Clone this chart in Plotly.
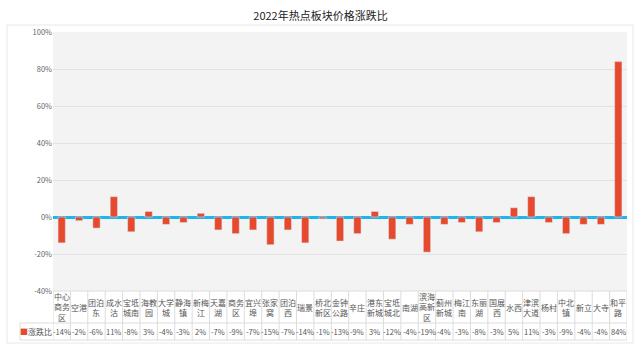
import plotly.graph_objects as go

categories = ["中心商务区", "空港", "团泊东", "成水沽", "宝坻城南", "海教园", "大学城", "静海镇",
              "新梅江", "天嘉湖", "商务区", "宜兴埠", "张家窝", "团泊西", "瑞景", "桥北新区",
              "金钟公路", "辛庄", "港东新城", "宝坻城北", "南湖", "滨海高新区", "蓟州新城", "梅江南",
              "东丽湖", "国展西", "水西", "津滨大道", "杨村", "中北镇", "新立", "大寺", "和平路"]
values = [-14, -2, -6, 11, -8, 3, -4, -3, 2, -7, -9, -7, -15, -7, -14, -1,
          -13, -9, 3, -12, -4, -19, -4, -3, -8, -3, 5, 11, -3, -9, -4, -4, 84]
series_name = "涨跌比"
title = "2022年热点板块价格涨跌比"
y_ticks = [-40, -20, 0, 20, 40, 60, 80, 100]
y_tick_labels = [f"{t}%" for t in y_ticks]

BAR = "#e64a2e"
FONT = "Noto Sans CJK SC"

def wrap(s, n=2):
    return "<br>".join(s[i:i + n] for i in range(0, len(s), n))

idx = list(range(len(categories)))

fig = go.Figure()
fig.add_trace(go.Bar(x=idx, y=values, marker_color=BAR, width=0.42, name=series_name,
                     showlegend=False, hoverinfo="skip"))

W, H = 641, 361
ml, mr, mt, mb = 53, 14, 32, 70
pw = W - ml - mr
ph = H - mt - mb

def py(px_below):  # pixels below the plot bottom -> paper y
    return -px_below / ph

def px(pix):  # absolute pixel x -> paper x
    return (pix - ml) / pw

annotations = []
for i, (c, v) in enumerate(zip(categories, values)):
    annotations.append(dict(x=i, y=py(16), xref="x", yref="paper", text=wrap(c),
                            showarrow=False, font=dict(size=8, color="#555", family=FONT),
                            xanchor="center", yanchor="middle"))
    annotations.append(dict(x=i, y=py(40), xref="x", yref="paper", text=f"{v}%",
                            showarrow=False, font=dict(size=7.5, color="#555", family=FONT),
                            xanchor="center", yanchor="middle"))
annotations.append(dict(x=px(36), y=py(40), xref="paper", yref="paper",
                        text=f"<span style='color:{BAR}'>■</span>{series_name}",
                        showarrow=False, font=dict(size=8, color="#555", family=FONT),
                        xanchor="center", yanchor="middle"))

LINE = "#dcdcdc"
shapes = []
for i in range(len(categories) + 1):
    shapes.append(dict(type="line", xref="x", yref="paper", x0=i - 0.5, x1=i - 0.5,
                       y0=0, y1=py(49), line=dict(color=LINE, width=1)))
shapes.append(dict(type="line", xref="paper", yref="paper", x0=px(20), x1=1,
                   y0=py(32), y1=py(32), line=dict(color=LINE, width=1)))
shapes.append(dict(type="line", xref="paper", yref="paper", x0=px(20), x1=1,
                   y0=py(49), y1=py(49), line=dict(color=LINE, width=1)))
shapes.append(dict(type="line", xref="paper", yref="paper", x0=px(20), x1=px(20),
                   y0=py(32), y1=py(49), line=dict(color=LINE, width=1)))
shapes.append(dict(type="line", xref="paper", yref="paper", x0=0, x1=1,
                   y0=0, y1=0, line=dict(color=LINE, width=1)))
# outer card
shapes.append(dict(type="rect", xref="paper", yref="paper", x0=px(7), x1=px(633),
                   y0=py(52), y1=1 + 7 / ph, line=dict(color="#e8e8e8", width=1),
                   layer="below"))

fig.update_layout(
    width=W, height=H,
    margin=dict(l=ml, r=mr, t=mt, b=mb, autoexpand=False),
    paper_bgcolor="white", plot_bgcolor="#f3f3f3",
    title=dict(text=title, x=0.5, xanchor="center", y=1 - 16 / H, yanchor="middle",
               font=dict(size=11, color="#222", family=FONT)),
    xaxis=dict(range=[-0.5, len(categories) - 0.5], showticklabels=False, showgrid=False,
               zeroline=False, fixedrange=True, automargin=False),
    yaxis=dict(range=[-40, 100], tickmode="array", tickvals=y_ticks, ticktext=y_tick_labels,
               showgrid=True, automargin=False,
               gridcolor="#e2e2e2", gridwidth=1, zeroline=True, zerolinecolor="#1eb4ec",
               zerolinewidth=3, tickfont=dict(size=7.5, color="#666", family=FONT),
               ticks="", ticklen=0),
    annotations=annotations, shapes=shapes,
    bargap=0.6,
)
fig.write_html("out.html", config={"displayModeBar": False},
               post_script="document.body.style.margin='0';")
